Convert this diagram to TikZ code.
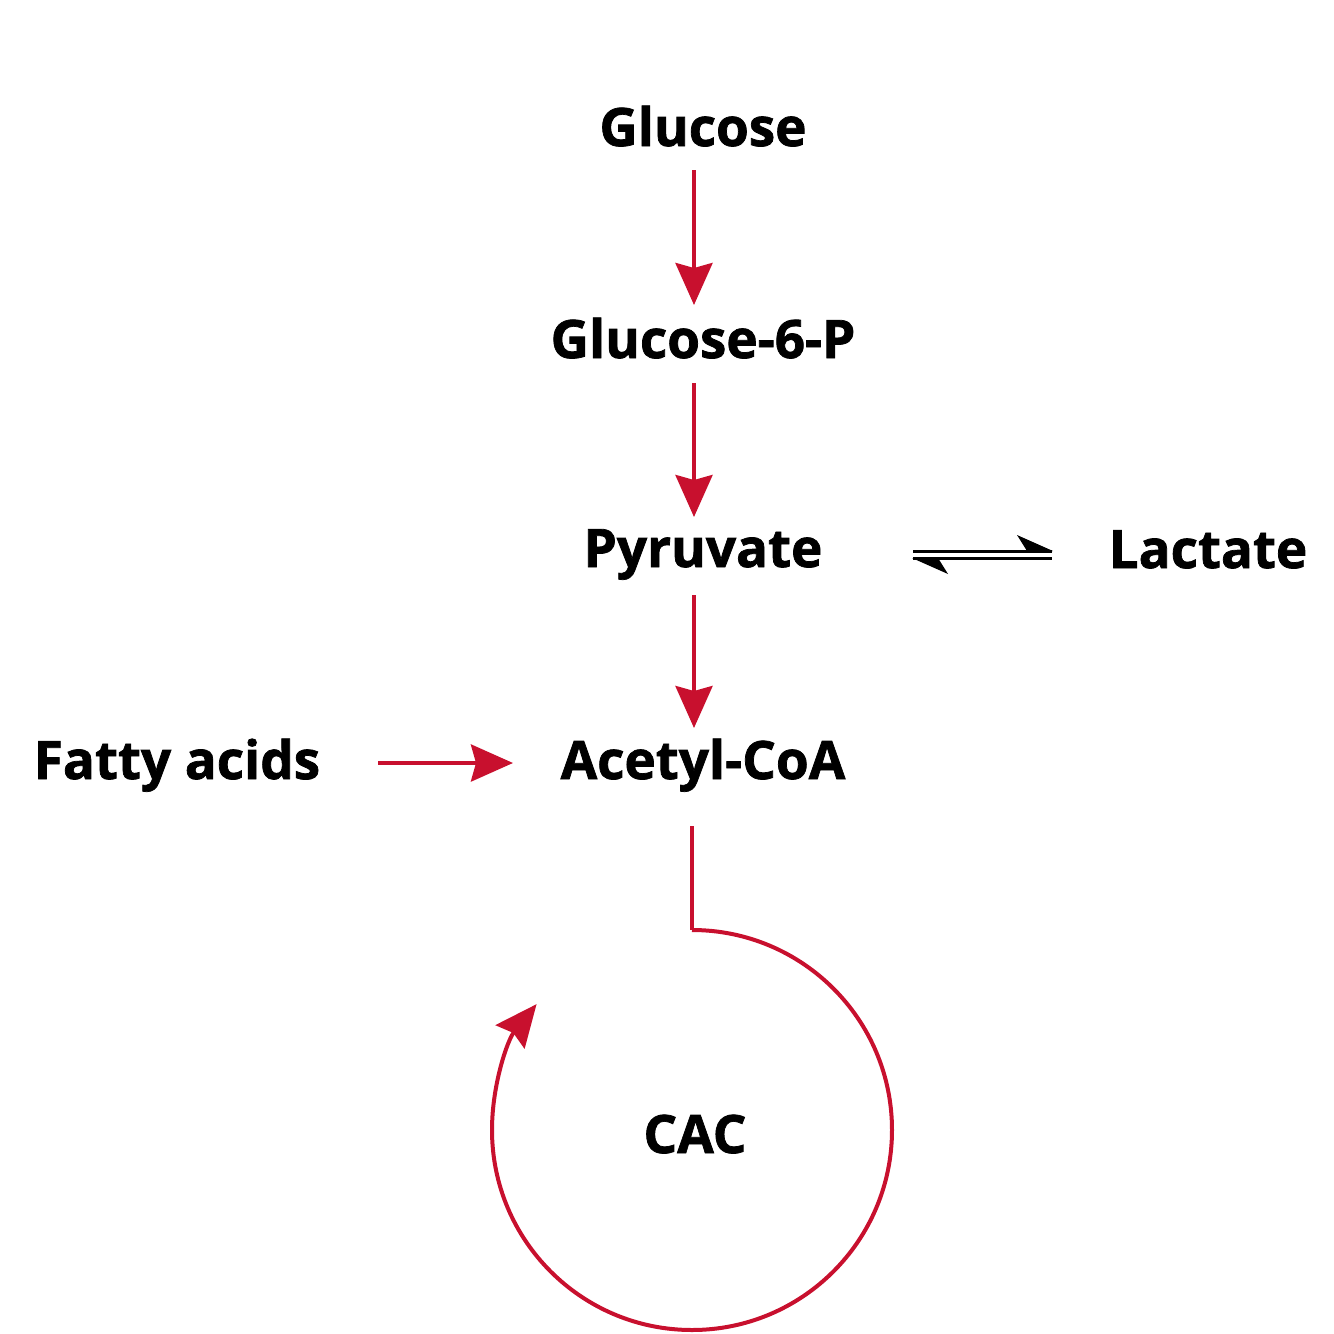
\documentclass[tikz,border=0pt]{standalone}
\usepackage{fontspec}
\setmainfont{Open Sans}[BoldFeatures={FakeBold=1.4}]
\usetikzlibrary{arrows.meta}
\definecolor{pathred}{HTML}{C8102E}
\begin{document}
\begin{tikzpicture}[x=0.5pt,y=-0.5pt,
  met/.style={font=\bfseries\fontsize{26.5}{30}\selectfont, inner sep=0pt, anchor=base},
  redtip/.style={-{Stealth[length=21pt,width=18.5pt,inset=2.5pt]}},
  redarrow/.style={draw=pathred, line width=2pt, redtip, color=pathred},
  redline/.style={draw=pathred, line width=2pt},
  eqline/.style={draw=black, line width=1.5pt}
]
\useasboundingbox (0,0) rectangle (1334,1334);
\node[met] (glc) at (703,146) {Glucose};
\node[met] (g6p) at (703,358) {Glucose-6-P};
\node[met] (pyr) at (703,567) {Pyruvate};
\node[met] (lac) at (1208,568) {Lactate};
\node[met] (aco) at (703,779) {Acetyl-CoA};
\node[met] (fa) at (177,779) {Fatty acids};
\node[met] (cac) at (695,1153) {CAC};

\coordinate (a1s) at (694,170);  \coordinate (a1e) at (694,305);
\coordinate (a2s) at (694,383);  \coordinate (a2e) at (694,517);
\coordinate (a3s) at (694,595);  \coordinate (a3e) at (694,728);
\coordinate (fas) at (378,763);  \coordinate (fae) at (513,763);
\draw[redarrow] (a1s) -- (a1e);
\draw[redarrow] (a2s) -- (a2e);
\draw[redarrow] (a3s) -- (a3e);
\draw[redarrow] (fas) -- (fae);

% equilibrium
\coordinate (eqa) at (913,551); \coordinate (eqb) at (1052,551);
\coordinate (eqc) at (913,558); \coordinate (eqd) at (1052,558);
\draw[eqline] (eqa) -- (eqb);
\fill (1053,551) -- (1017,535) -- (1027,551) -- cycle;
\draw[eqline] (eqc) -- (eqd);
\fill (912,558) -- (948,574) -- (938,558) -- cycle;

% CAC loop
\coordinate (ls) at (692,826);
\coordinate (lt) at (692,930);
\draw[redline] (ls) -- (lt);
\draw[redarrow] (lt) arc[start angle=-90, end angle=219, radius=200];
\end{tikzpicture}
\end{document}
